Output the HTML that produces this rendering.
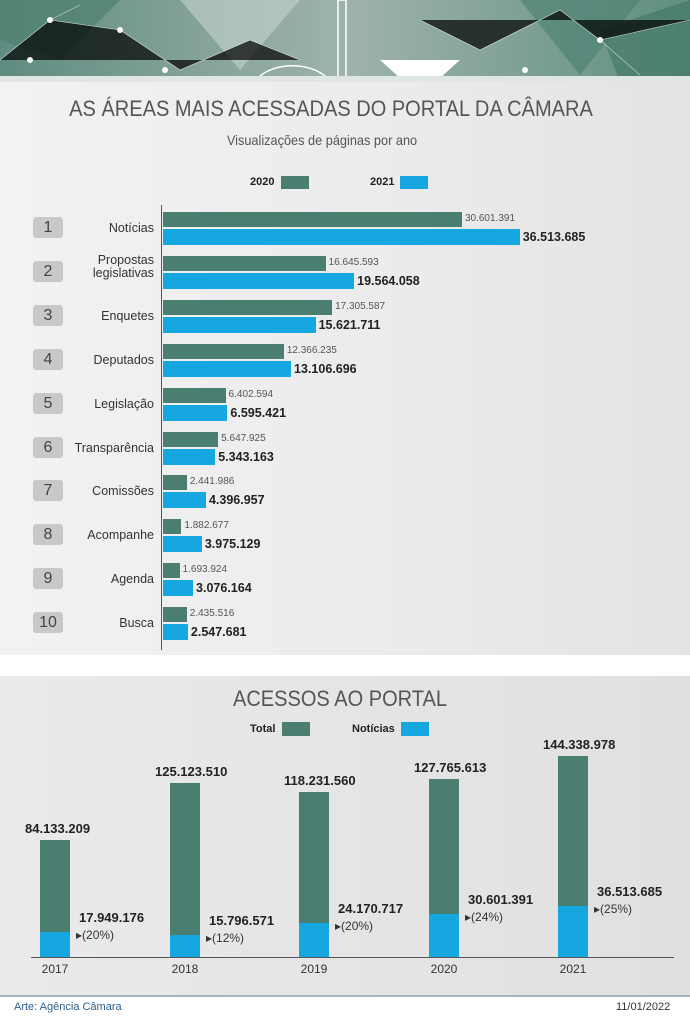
<!DOCTYPE html>
<html><head><meta charset="utf-8"><style>
body{margin:0;width:690px;height:1019px;position:relative;background:#fff;font-family:"Liberation Sans",sans-serif;overflow:hidden}
.a{position:absolute}
.t{position:absolute;white-space:nowrap}
.lbl{font-size:12.5px;color:#333;text-align:right;width:130px;left:24px;line-height:13px}
.box{position:absolute;left:33px;width:30px;height:21px;background:#c9c7c7;border-radius:3px;font-size:16px;color:#444;text-align:center;line-height:21px}
.g{position:absolute;left:163px;height:15px;background:#4a7e70}
.b{position:absolute;left:163px;height:16px;background:#16a6e0}
.v1{font-size:10px;color:#555}
.v2{font-size:12.5px;font-weight:bold;color:#222}
.bg{position:absolute;width:30px;background:#4a7e70}
.bb{position:absolute;width:30px;background:#16a6e0}
.tot{font-size:13px;font-weight:bold;color:#222}
.yr{font-size:12px;color:#333}
.pc{font-size:12px;color:#333}
.ttl{transform:scaleX(0.91);transform-origin:center}
</style></head><body>
<div class="a" style="left:0;top:0;width:690px;height:655px;background:linear-gradient(90deg,#f2f2f3,#ebebec 60%,#e3e3e4)"></div>
<svg class="a" style="left:0;top:0" width="690" height="82">
<defs><linearGradient id="h" x1="0" x2="1"><stop offset="0" stop-color="#5f8c80"/><stop offset=".5" stop-color="#9fb3ad"/><stop offset="1" stop-color="#5f8f80"/></linearGradient></defs>
<rect width="690" height="82" fill="url(#h)"/>
<polygon points="0,0 120,0 60,60 0,40" fill="#4e8070" opacity=".7"/>
<polygon points="180,0 300,0 240,70" fill="#c7d3cf" opacity=".6"/>
<polygon points="520,0 640,0 580,75" fill="#4a7e70" opacity=".6"/>
<polygon points="600,30 690,0 690,82 620,82" fill="#3f7565" opacity=".6"/>
<polygon points="380,60 460,60 440,78 400,78" fill="#fff"/>
<rect x="338" y="0" width="8" height="78" fill="none" stroke="#fff" stroke-width="1.5"/>
<path d="M255 82 A40 25 0 0 1 330 82" fill="none" stroke="#fff" stroke-width="1.5"/>
<g stroke="#fff" stroke-width=".6" opacity=".7"><path d="M0 60 L50 20 L120 30 L180 70 L250 40 L300 60 M420 20 L480 50 L560 10 L600 40 L690 20 M50 20 L80 5 M600 40 L640 75"/></g>
<g fill="#fff"><circle cx="50" cy="20" r="3"/><circle cx="120" cy="30" r="3"/><circle cx="30" cy="60" r="3"/><circle cx="165" cy="70" r="3"/><circle cx="600" cy="40" r="3"/><circle cx="565" cy="82" r="3"/><circle cx="525" cy="70" r="3"/></g>
<rect y="76" width="690" height="6" fill="#dfe6e4"/>
</svg>
<div class="t ttl" style="left:-14px;width:690px;text-align:center;top:96px;font-size:22px;color:#555">AS ÁREAS MAIS ACESSADAS DO PORTAL DA CÂMARA</div>
<div class="t ttl" style="left:0;width:644px;text-align:center;top:132px;font-size:14px;color:#555">Visualizações de páginas por ano</div>
<div class="t" style="left:250px;top:176px;font-size:11px;font-weight:bold;color:#222">2020</div>
<div class="a" style="left:281px;top:176px;width:28px;height:13px;background:#4a7e70"></div>
<div class="t" style="left:370px;top:176px;font-size:11px;font-weight:bold;color:#222">2021</div>
<div class="a" style="left:400px;top:176px;width:28px;height:13px;background:#16a6e0"></div>
<div class="a" style="left:161px;top:205px;width:1px;height:445px;background:#555"></div>
<div id="rows"></div>
<div class="a" style="left:0;top:676px;width:690px;height:319px;background:linear-gradient(90deg,#eaeaeb,#e0e0e1)"></div>
<div class="t ttl" style="left:0;width:680px;text-align:center;top:686px;font-size:22px;color:#555">ACESSOS AO PORTAL</div>
<div class="t" style="left:250px;top:723px;font-size:11px;font-weight:bold;color:#222">Total</div>
<div class="a" style="left:282px;top:722px;width:28px;height:14px;background:#4a7e70"></div>
<div class="t" style="left:352px;top:723px;font-size:11px;font-weight:bold;color:#222">Notícias</div>
<div class="a" style="left:401px;top:722px;width:28px;height:14px;background:#16a6e0"></div>
<div class="a" style="left:31px;top:957px;width:643px;height:1px;background:#555"></div>
<div id="cols"></div>
<div class="a" style="left:0;top:995px;width:690px;height:2px;background:#a9b3bb"></div>
<div class="t" style="left:14px;top:1001px;font-size:11px;color:#2d5f8a">Arte: Agência Câmara</div>
<div class="t" style="left:616px;top:1001px;font-size:11px;color:#333">11/01/2022</div>
<script>
var r=[["Notícias",30601391,36513685],["Propostas<br>legislativas",16645593,19564058],["Enquetes",17305587,15621711],["Deputados",12366235,13106696],["Legislação",6402594,6595421],["Transparência",5647925,5343163],["Comissões",2441986,4396957],["Acompanhe",1882677,3975129],["Agenda",1693924,3076164],["Busca",2435516,2547681]];
function f(n){return n.toString().replace(/\B(?=(\d{3})+(?!\d))/g,".")}
var h="";r.forEach(function(d,i){var y=212+i*43.9,w1=d[1]*9.77e-6,w2=d[2]*9.77e-6;
h+='<div class="box" style="top:'+(y+5)+'px">'+(i+1)+'</div>';
h+='<div class="t lbl" style="top:'+(y+(i==1?-2:10))+'px">'+d[0]+'</div>';
h+='<div class="g" style="top:'+y+'px;width:'+w1+'px"></div>';
h+='<div class="b" style="top:'+(y+17)+'px;width:'+w2+'px"></div>';
h+='<div class="t v1" style="top:'+(y+1)+'px;left:'+(166+w1)+'px">'+f(d[1])+'</div>';
h+='<div class="t v2" style="top:'+(y+18)+'px;left:'+(166+w2)+'px">'+f(d[2])+'</div>';});
document.getElementById("rows").innerHTML=h;
var c=[[2017,84133209,17949176,20,40],[2018,125123510,15796571,12,170],[2019,118231560,24170717,20,299],[2020,127765613,30601391,24,429],[2021,144338978,36513685,25,558]];
h="";c.forEach(function(d){var x=d[4],ht=d[1]*1.393e-6,hn=d[2]*1.393e-6,top=957-ht,nt=957-hn;
h+='<div class="bg" style="left:'+x+'px;top:'+top+'px;height:'+ht+'px"></div>';
h+='<div class="bb" style="left:'+x+'px;top:'+nt+'px;height:'+hn+'px"></div>';
h+='<div class="t tot" style="left:'+(x-15)+'px;top:'+(top-19)+'px;width:60px;text-align:center">'+f(d[1])+'</div>';
h+='<div class="t yr" style="left:'+(x-5)+'px;top:962px;width:40px;text-align:center">'+d[0]+'</div>';
h+='<div class="t tot" style="left:'+(x+39)+'px;top:'+(nt-22)+'px">'+f(d[2])+'</div>';
h+='<div class="t pc" style="left:'+(x+36)+'px;top:'+(nt-4)+'px">▸('+d[3]+'%)</div>';});
document.getElementById("cols").innerHTML=h;
</script>
</body></html>
